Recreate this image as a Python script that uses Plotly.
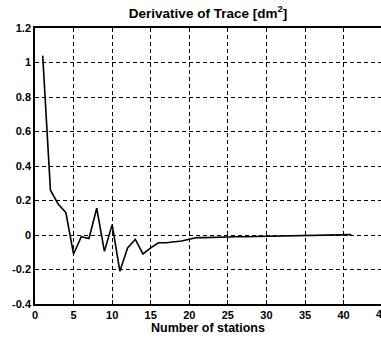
import plotly.graph_objects as go

stations = list(range(1, 42))
deriv = [1.04, 0.26, 0.18, 0.13, -0.11, -0.01, -0.02, 0.155, -0.095, 0.06,
         -0.21, -0.075, -0.025, -0.11, -0.075, -0.045, -0.045, -0.04, -0.035, -0.025,
         -0.015, -0.015, -0.013, -0.012, -0.011, -0.01, -0.01, -0.009, -0.008, -0.008,
         -0.007, -0.006, -0.006, -0.005, -0.005, -0.004, -0.003, -0.002, -0.001, 0.0, 0.002]

x_ticks = [0, 5, 10, 15, 20, 25, 30, 35, 40]
y_ticks = [-0.4, -0.2, 0, 0.2, 0.4, 0.6, 0.8, 1, 1.2]
y_text = ["-0.4", "-0.2", "0", "0.2", "0.4", "0.6", "0.8", "1", "1.2"]
x_max = 44.85

fnt = dict(family="Liberation Sans, Arial", size=11, color="black")

fig = go.Figure()
fig.add_trace(go.Scatter(x=stations, y=deriv, mode="lines",
                         line=dict(color="black", width=1.6), showlegend=False))

fig.update_layout(
    width=381, height=338,
    margin=dict(l=35, r=0, t=28, b=34),
    paper_bgcolor="white", plot_bgcolor="white",
    title=dict(text="<b>Derivative of Trace [dm<sup>2</sup>]</b>", x=0.5, xref="paper",
               y=1 - 13 / 338, yanchor="middle",
               font=dict(family="Liberation Sans, Arial", size=13.5, color="black")),
)
fig.update_xaxes(range=[0, x_max], tickvals=x_ticks, ticktext=[f"<b>{v}</b>" for v in x_ticks],
                 showgrid=True, gridcolor="black", griddash="4px,3px", gridwidth=1,
                 zeroline=False, showline=True, linecolor="black", linewidth=1.5, mirror=True,
                 ticks="inside", ticklen=4, tickcolor="black", tickfont=fnt,
                 title=dict(text="<b>Number of stations</b>", standoff=2,
                            font=dict(family="Liberation Sans, Arial", size=12.5, color="black")))
fig.update_yaxes(range=[-0.4, 1.2], tickvals=y_ticks, ticktext=[f"<b>{t}</b>" for t in y_text],
                 showgrid=True, gridcolor="black", griddash="4px,3px", gridwidth=1,
                 zeroline=False, showline=True, linecolor="black", linewidth=1.5, mirror=False,
                 ticks="inside", ticklen=4, tickcolor="black", tickfont=fnt)
fig.add_annotation(x=45 / x_max, y=0, xref="paper", yref="paper", xanchor="center",
                   yanchor="top", yshift=-2, text="<b>45</b>", showarrow=False, font=fnt)

fig.write_html("out.html")
